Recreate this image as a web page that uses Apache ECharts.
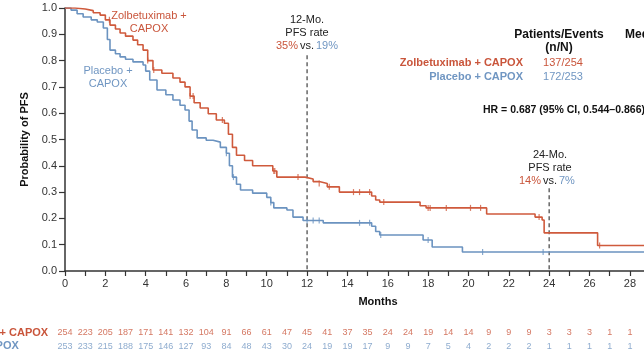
<!DOCTYPE html>
<html><head><meta charset="utf-8">
<script src="https://cdn.jsdelivr.net/npm/echarts@6/dist/echarts.min.js"></script>
<style>html,body{margin:0;padding:0;background:#fff}#c{width:644px;height:363px}</style>
</head><body><div id="c"></div>
<script>
// ---- data ----
const redTimes = [0,0.5,1.0,1.4,1.74,2.0,2.23,2.5,2.73,3.0,3.37,3.6,3.87,4.1,4.36,4.8,5.35,5.7,5.95,6.2,6.4,6.7,7.1,7.5,7.9,8.1,8.3,8.5,8.9,9.3,10.3,10.5,11.9,12.3,12.6,13.0,13.6,15.2,15.4,15.6,17.6,17.9,20.9,23.3,23.65,23.75,26.4,31];
const redSurv  = [1.0,0.996,0.99,0.982,0.973,0.955,0.935,0.92,0.905,0.893,0.878,0.86,0.84,0.80,0.764,0.752,0.734,0.718,0.70,0.665,0.64,0.62,0.598,0.574,0.562,0.52,0.47,0.44,0.42,0.40,0.38,0.357,0.35,0.34,0.333,0.32,0.30,0.285,0.27,0.262,0.248,0.24,0.217,0.205,0.194,0.145,0.097,0.097];
const blueTimes = [0,0.3,0.6,0.9,1.3,1.6,1.9,2.1,2.23,2.5,2.73,3.0,3.37,3.87,4.0,4.2,4.56,5.0,5.35,5.7,5.95,6.15,6.3,6.55,7.0,7.34,7.7,8.0,8.15,8.3,8.5,8.7,9.3,10.0,10.2,10.35,11.0,11.3,11.8,12.8,15.2,15.4,15.6,17.75,18.2,19.7,31];
const blueSurv  = [1.0,0.992,0.978,0.966,0.955,0.947,0.924,0.88,0.84,0.826,0.814,0.805,0.795,0.783,0.76,0.726,0.688,0.67,0.65,0.63,0.612,0.57,0.536,0.506,0.497,0.49,0.47,0.448,0.40,0.357,0.33,0.308,0.296,0.28,0.26,0.24,0.232,0.205,0.192,0.183,0.17,0.15,0.137,0.118,0.091,0.072,0.072];
const redCensor = [2.2,4.1,4.4,6.2,6.35,7.8,10.35,10.4,11.55,12.6,13.1,14.3,14.6,15.1,15.8,18.0,18.1,18.9,20.1,20.6,23.5,26.5];
const blueCensor = [8.0,8.35,10.2,12.0,12.3,12.6,14.6,15.1,15.65,18.0,20.7,23.7];
const riskMonths = [0,1,2,3,4,5,6,7,8,9,10,11,12,13,14,15,16,17,18,19,20,21,22,23,24,25,26,27,28];
const riskRed  = [254,223,205,187,171,141,132,104,91,66,61,47,45,41,37,35,24,24,19,14,14,9,9,9,3,3,3,1,1];
const riskBlue = [253,233,215,188,175,146,127,93,84,48,43,30,24,19,19,17,9,9,7,5,4,2,2,2,1,1,1,1,1];
const refMonths = [12, 24];
const refTop = [0.82, 0.315];
const X_MAX = 28.7; // visible part of the month axis

// ---- style ----
const RED = '#cf5a3c', BLUE = '#6b93c0', RED_T = '#c9553b', BLUE_T = '#7096c2';
const FONT = '"Liberation Sans", Arial, sans-serif';
const AX = '#333';

function survAt(times, surv, t) {
  let v = surv[0];
  for (let i = 0; i < times.length; i++) if (times[i] <= t) v = surv[i];
  return v;
}
const redLine = redTimes.map((t, i) => [t, redSurv[i]]);
const blueLine = blueTimes.map((t, i) => [t, blueSurv[i]]);
const redC = redCensor.map(t => [t, survAt(redTimes, redSurv, t)]);
const blueC = blueCensor.map(t => [t, survAt(blueTimes, blueSurv, t)]);

const chart = echarts.init(document.getElementById('c'), null, {renderer: 'canvas'});
const txt = (x, y, text, o) => ({type: 'text', x, y, silent: true, style: Object.assign({text, font: '11px ' + FONT, fill: '#222', align: 'center', verticalAlign: 'middle', textAlign: 'center', textVerticalAlign: 'middle'}, o || {})});
const bold = s => 'bold ' + s + 'px ' + FONT;

chart.setOption({
  animation: false,
  grid: [
    {left: 65, top: 8, right: 0, height: 263},
    {left: 65, top: 326, right: 0, height: 27}
  ],
  xAxis: [
    {gridIndex: 0, type: 'value', min: 0, max: X_MAX, interval: 1,
     axisLine: {lineStyle: {color: AX, width: 1.5}},
     axisTick: {length: 5, lineStyle: {color: AX, width: 1.2}},
     axisLabel: {margin: 7, color: '#333', fontSize: 11, fontFamily: FONT, showMaxLabel: false,
                 formatter: v => (v % 2 === 0 ? String(v) : '')},
     splitLine: {show: false}},
    {gridIndex: 1, type: 'value', min: 0, max: X_MAX, show: false}
  ],
  yAxis: [
    {gridIndex: 0, type: 'value', min: 0, max: 1, interval: 0.1,
     axisLine: {show: true, lineStyle: {color: AX, width: 1.5}},
     axisTick: {show: true, length: 6, lineStyle: {color: AX, width: 1.2}},
     axisLabel: {margin: 8, color: '#333', fontSize: 11, fontFamily: FONT, formatter: v => v.toFixed(1)},
     splitLine: {show: false},
     name: 'Probability of PFS', nameLocation: 'middle', nameGap: 29,
     nameTextStyle: {fontWeight: 'bold', fontSize: 11, color: '#111', fontFamily: FONT}},
    {gridIndex: 1, type: 'category', data: ['Placebo + CAPOX', 'Zolbetuximab + CAPOX'], show: false}
  ],
  series: [
    {type: 'line', xAxisIndex: 0, yAxisIndex: 0, step: 'end', data: blueLine, symbol: 'none',
     lineStyle: {color: BLUE, width: 1.6}, z: 3},
    {type: 'line', xAxisIndex: 0, yAxisIndex: 0, step: 'end', data: redLine, symbol: 'none',
     lineStyle: {color: RED, width: 1.6}, z: 4},
    {type: 'scatter', xAxisIndex: 0, yAxisIndex: 0, data: blueC, symbol: 'rect', symbolSize: [1.2, 6],
     itemStyle: {color: BLUE}, z: 5},
    {type: 'scatter', xAxisIndex: 0, yAxisIndex: 0, data: redC, symbol: 'rect', symbolSize: [1.2, 6],
     itemStyle: {color: RED}, z: 5},
    {type: 'line', xAxisIndex: 0, yAxisIndex: 0, data: [[refMonths[0], refTop[0]], [refMonths[0], 0]], symbol: 'none',
     lineStyle: {color: '#666', width: 1.5, type: [4, 3]}, z: 2},
    {type: 'line', xAxisIndex: 0, yAxisIndex: 0, data: [[refMonths[1], refTop[1]], [refMonths[1], 0]], symbol: 'none',
     lineStyle: {color: '#666', width: 1.5, type: [4, 3]}, z: 2},
    {type: 'scatter', xAxisIndex: 1, yAxisIndex: 1, symbolSize: 1, itemStyle: {color: 'rgba(0,0,0,0)'},
     data: riskMonths.map((m, i) => [m, 1, riskRed[i]]),
     label: {show: true, position: 'inside', formatter: p => String(p.value[2]), color: RED_T, fontSize: 9, fontFamily: FONT}},
    {type: 'scatter', xAxisIndex: 1, yAxisIndex: 1, symbolSize: 1, itemStyle: {color: 'rgba(0,0,0,0)'},
     data: riskMonths.map((m, i) => [m, 0, riskBlue[i]]),
     label: {show: true, position: 'inside', formatter: p => String(p.value[2]), color: BLUE_T, fontSize: 9, fontFamily: FONT}}
  ],
  graphic: [
    txt(378, 302, 'Months', {font: bold(11), fill: '#111'}),
    txt(149, 16, 'Zolbetuximab +', {fill: RED_T}),
    txt(149, 29, 'CAPOX', {fill: RED_T}),
    txt(108, 71, 'Placebo +', {fill: BLUE_T}),
    txt(108, 84, 'CAPOX', {fill: BLUE_T}),
    txt(307, 20, '12-Mo.'),
    txt(307, 33, 'PFS rate'),
    txt(298, 46, '35%', {fill: RED_T, align: 'right', textAlign: 'right'}),
    txt(307, 46, 'vs.', {}),
    txt(316, 46, '19%', {fill: BLUE_T, align: 'left', textAlign: 'left'}),
    txt(550, 155, '24-Mo.'),
    txt(550, 168, 'PFS rate'),
    txt(541, 181, '14%', {fill: RED_T, align: 'right', textAlign: 'right'}),
    txt(550, 181, 'vs.', {}),
    txt(559, 181, '7%', {fill: BLUE_T, align: 'left', textAlign: 'left'}),
    txt(559, 35, 'Patients/Events', {font: bold(12), fill: '#111'}),
    txt(559, 48, '(n/N)', {font: bold(12), fill: '#111'}),
    txt(625, 35, 'Median PFS, mo', {font: bold(12), fill: '#111', align: 'left', textAlign: 'left'}),
    txt(523, 63, 'Zolbetuximab + CAPOX', {font: bold(11), fill: RED_T, align: 'right', textAlign: 'right'}),
    txt(523, 77, 'Placebo + CAPOX', {font: bold(11), fill: BLUE_T, align: 'right', textAlign: 'right'}),
    txt(563, 63, '137/254', {fill: RED_T}),
    txt(563, 77, '172/253', {fill: BLUE_T}),
    txt(483, 110, 'HR = 0.687 (95% CI, 0.544\u20130.866)', {font: bold(10.5), fill: '#111', align: 'left', textAlign: 'left'}),
    txt(-75, 333, 'Zolbetuximab + CAPOX', {font: bold(11), fill: RED_T, align: 'left', textAlign: 'left'}),
    txt(-75, 346, 'Placebo + CAPOX', {font: bold(11), fill: BLUE_T, align: 'left', textAlign: 'left'})
  ]
});
</script>
</body></html>
